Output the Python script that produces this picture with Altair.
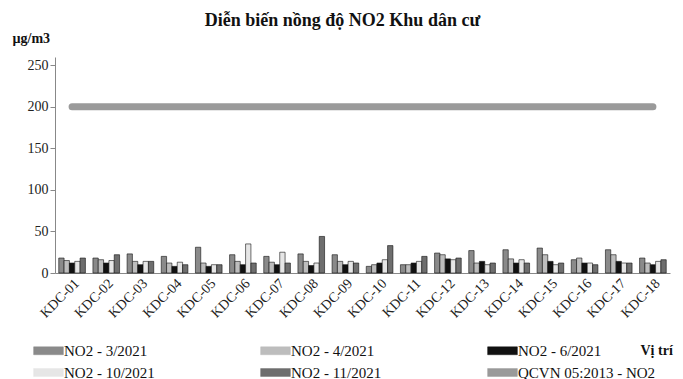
import altair as alt
import pandas as pd

sites = [f"KDC-{i:02d}" for i in range(1, 19)]
series = ["NO2 - 3/2021", "NO2 - 4/2021", "NO2 - 6/2021", "NO2 - 10/2021", "NO2 - 11/2021"]
limit_name = "QCVN 05:2013 - NO2"
limit_value = 200

no2_mar = [18, 18, 23, 20, 31, 22, 20, 23, 22, 8, 10, 24, 27, 28, 30, 16, 28, 18]
no2_apr = [15, 16, 14, 12, 12, 14, 13, 14, 14, 10, 10, 22, 12, 17, 22, 18, 22, 12]
no2_jun = [12, 12, 10, 8, 8, 10, 10, 9, 10, 12, 12, 17, 14, 12, 14, 12, 14, 10]
no2_oct = [14, 15, 14, 13, 10, 35, 25, 12, 14, 16, 14, 16, 10, 16, 10, 12, 12, 14]
no2_nov = [18, 22, 14, 10, 10, 12, 12, 44, 12, 33, 20, 18, 12, 12, 12, 10, 12, 16]

rows = []
for s, vals in zip(series, [no2_mar, no2_apr, no2_jun, no2_oct, no2_nov]):
    for site, v in zip(sites, vals):
        rows.append({"site": site, "series": s, "value": v})
bars_df = pd.DataFrame(rows)
line_df = pd.DataFrame({"site": sites, "series": [limit_name] * len(sites), "value": [limit_value] * len(sites)})

domain = series + [limit_name]
colors = ["#8a8a8a", "#bdbdbd", "#111111", "#e6e6e6", "#6e6e6e", "#9a9a9a"]
color_scale = alt.Scale(domain=domain, range=colors)

FONT = "Liberation Serif"

x_enc = alt.X(
    "site:N",
    sort=sites,
    scale=alt.Scale(paddingInner=0.22, paddingOuter=0.11),
    axis=alt.Axis(
        title="Vị trí",
        titleFont=FONT,
        titleFontSize=14,
        titleFontWeight="bold",
        titleColor="#111",
        titleAngle=0,
        titleAlign="left",
        titleBaseline="middle",
        titleX=585,
        titleY=77,
        labelAngle=-45,
        labelFont=FONT,
        labelFontSize=14,
        labelColor="#222",
        labelPadding=3,
        domainColor="#888",
        ticks=False,
    ),
)

bars = alt.Chart(bars_df).mark_bar(stroke="#111", strokeWidth=0.6).encode(
    x=x_enc,
    xOffset=alt.XOffset("series:N", sort=series),
    y=alt.Y(
        "value:Q",
        scale=alt.Scale(domain=[0, 250]),
        axis=alt.Axis(
            values=[0, 50, 100, 150, 200, 250],
            grid=False,
            title="µg/m3",
            titleFont=FONT,
            titleFontSize=14,
            titleFontWeight="bold",
            titleColor="#111",
            titleAngle=0,
            titleAlign="left",
            titleBaseline="middle",
            titleX=-43,
            titleY=-19,
            labelFont=FONT,
            labelFontSize=14,
            labelColor="#222",
            labelPadding=2,
            domainColor="#888",
            tickColor="#888",
            tickSize=5,
        ),
    ),
    color=alt.Color(
        "series:N",
        scale=color_scale,
        legend=alt.Legend(
            title=None,
            orient="none",
            legendX=-18,
            legendY=282,
            direction="horizontal",
            columns=3,
            columnPadding=104,
            rowPadding=2,
            symbolType="M-1.35,-0.36H1.35V0.36H-1.35Z",
            symbolSize=484,
            symbolStrokeColor="#111",
            symbolStrokeWidth=0.5,
            labelFont=FONT,
            labelFontSize=15,
            labelColor="#111",
            labelOffset=4,
        ),
    ),
)

line = alt.Chart(line_df).mark_line(strokeWidth=7, strokeCap="round").encode(
    x=alt.X("site:N", sort=sites),
    y=alt.Y("value:Q"),
    color=alt.Color("series:N", scale=color_scale),
)

chart = (
    alt.layer(bars, line)
    .properties(
        width=615,
        height=216,
        title=alt.TitleParams(
            "Diễn biến nồng độ NO2 Khu dân cư",
            font=FONT,
            fontSize=18,
            fontWeight="bold",
            color="#111",
            anchor="middle",
            dx=-20,
            offset=1,
        ),
        padding={"left": 47, "top": 49, "right": 5, "bottom": 120},
        autosize=alt.AutoSizeParams(type="none"),
    )
    .configure_view(stroke=None)
)

chart.save("out.html", embed_options={"renderer": "svg", "actions": False})
